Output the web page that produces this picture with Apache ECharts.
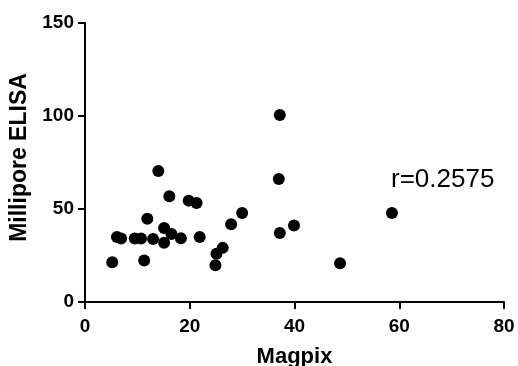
<!DOCTYPE html>
<html>
<head>
<meta charset="utf-8">
<script src="https://cdn.jsdelivr.net/npm/echarts@6/dist/echarts.min.js"></script>
<style>
  html, body { margin: 0; padding: 0; background: #fff; }
  #chart { width: 518px; height: 366px; }
</style>
</head>
<body>
<div id="chart"></div>
<script>
// Magpix vs Millipore ELISA readings
const magpix = [5.2, 6.1, 6.9, 9.5, 10.7, 11.3, 11.9, 13.0, 14.0, 15.1, 15.1, 16.1, 16.5, 18.3,
  19.8, 21.3, 21.9, 24.9, 25.1, 26.3, 27.9, 30.0, 37.0, 37.2, 37.2, 39.9, 48.7, 58.6];
const millipore = [21.4, 35.0, 34.2, 34.1, 34.1, 22.3, 44.8, 33.9, 70.4, 39.8, 31.8, 56.8, 36.6, 34.3,
  54.5, 53.2, 35.0, 19.8, 26.0, 29.1, 41.8, 47.9, 66.1, 100.6, 37.1, 41.1, 20.8, 47.9];
const xTicks = [0, 20, 40, 60, 80];
const yTicks = [0, 50, 100, 150];
const rLabel = 'r=0.2575';

const font = '"Liberation Sans", Arial, sans-serif';
const chart = echarts.init(document.getElementById('chart'));

const points = magpix.map((x, i) => [x, millipore[i]]);

const axisCommon = {
    axisLine: { show: true, lineStyle: { color: '#000', width: 2 } },
    axisTick: { show: true, length: 7, lineStyle: { color: '#000', width: 2 } },
    splitLine: { show: false },
    axisLabel: { color: '#000', fontFamily: font, fontWeight: 'bold', fontSize: 19 },
    nameTextStyle: { color: '#000', fontFamily: font, fontWeight: 'bold', fontSize: 22 },
    nameLocation: 'middle',
};

chart.setOption({
    animation: false,
    backgroundColor: '#fff',
    grid: { left: 85, right: 14, top: 23, bottom: 64, containLabel: false, outerBoundsMode: 'none' },
    xAxis: {
        ...axisCommon,
        type: 'value',
        min: xTicks[0],
        max: xTicks[xTicks.length - 1],
        interval: 20,
        name: 'Magpix',
        nameGap: 44,
        axisLabel: { ...axisCommon.axisLabel, margin: 15 },
    },
    yAxis: {
        ...axisCommon,
        type: 'value',
        min: yTicks[0],
        max: yTicks[yTicks.length - 1],
        interval: 50,
        name: 'Millipore ELISA',
        nameGap: 53,
        nameTextStyle: { ...axisCommon.nameTextStyle, fontSize: 23, padding: [0, 0, 0, 10] },
        axisLabel: { ...axisCommon.axisLabel, margin: 11 },
    },
    graphic: [{
        type: 'text',
        left: 391,
        top: 167,
        style: { text: rLabel, fill: '#000', font: '26px ' + font },
    }],
    series: [{
        type: 'scatter',
        data: points,
        symbol: 'circle',
        symbolSize: 12,
        itemStyle: { color: '#000', opacity: 1 },
    }],
});
</script>
</body>
</html>
